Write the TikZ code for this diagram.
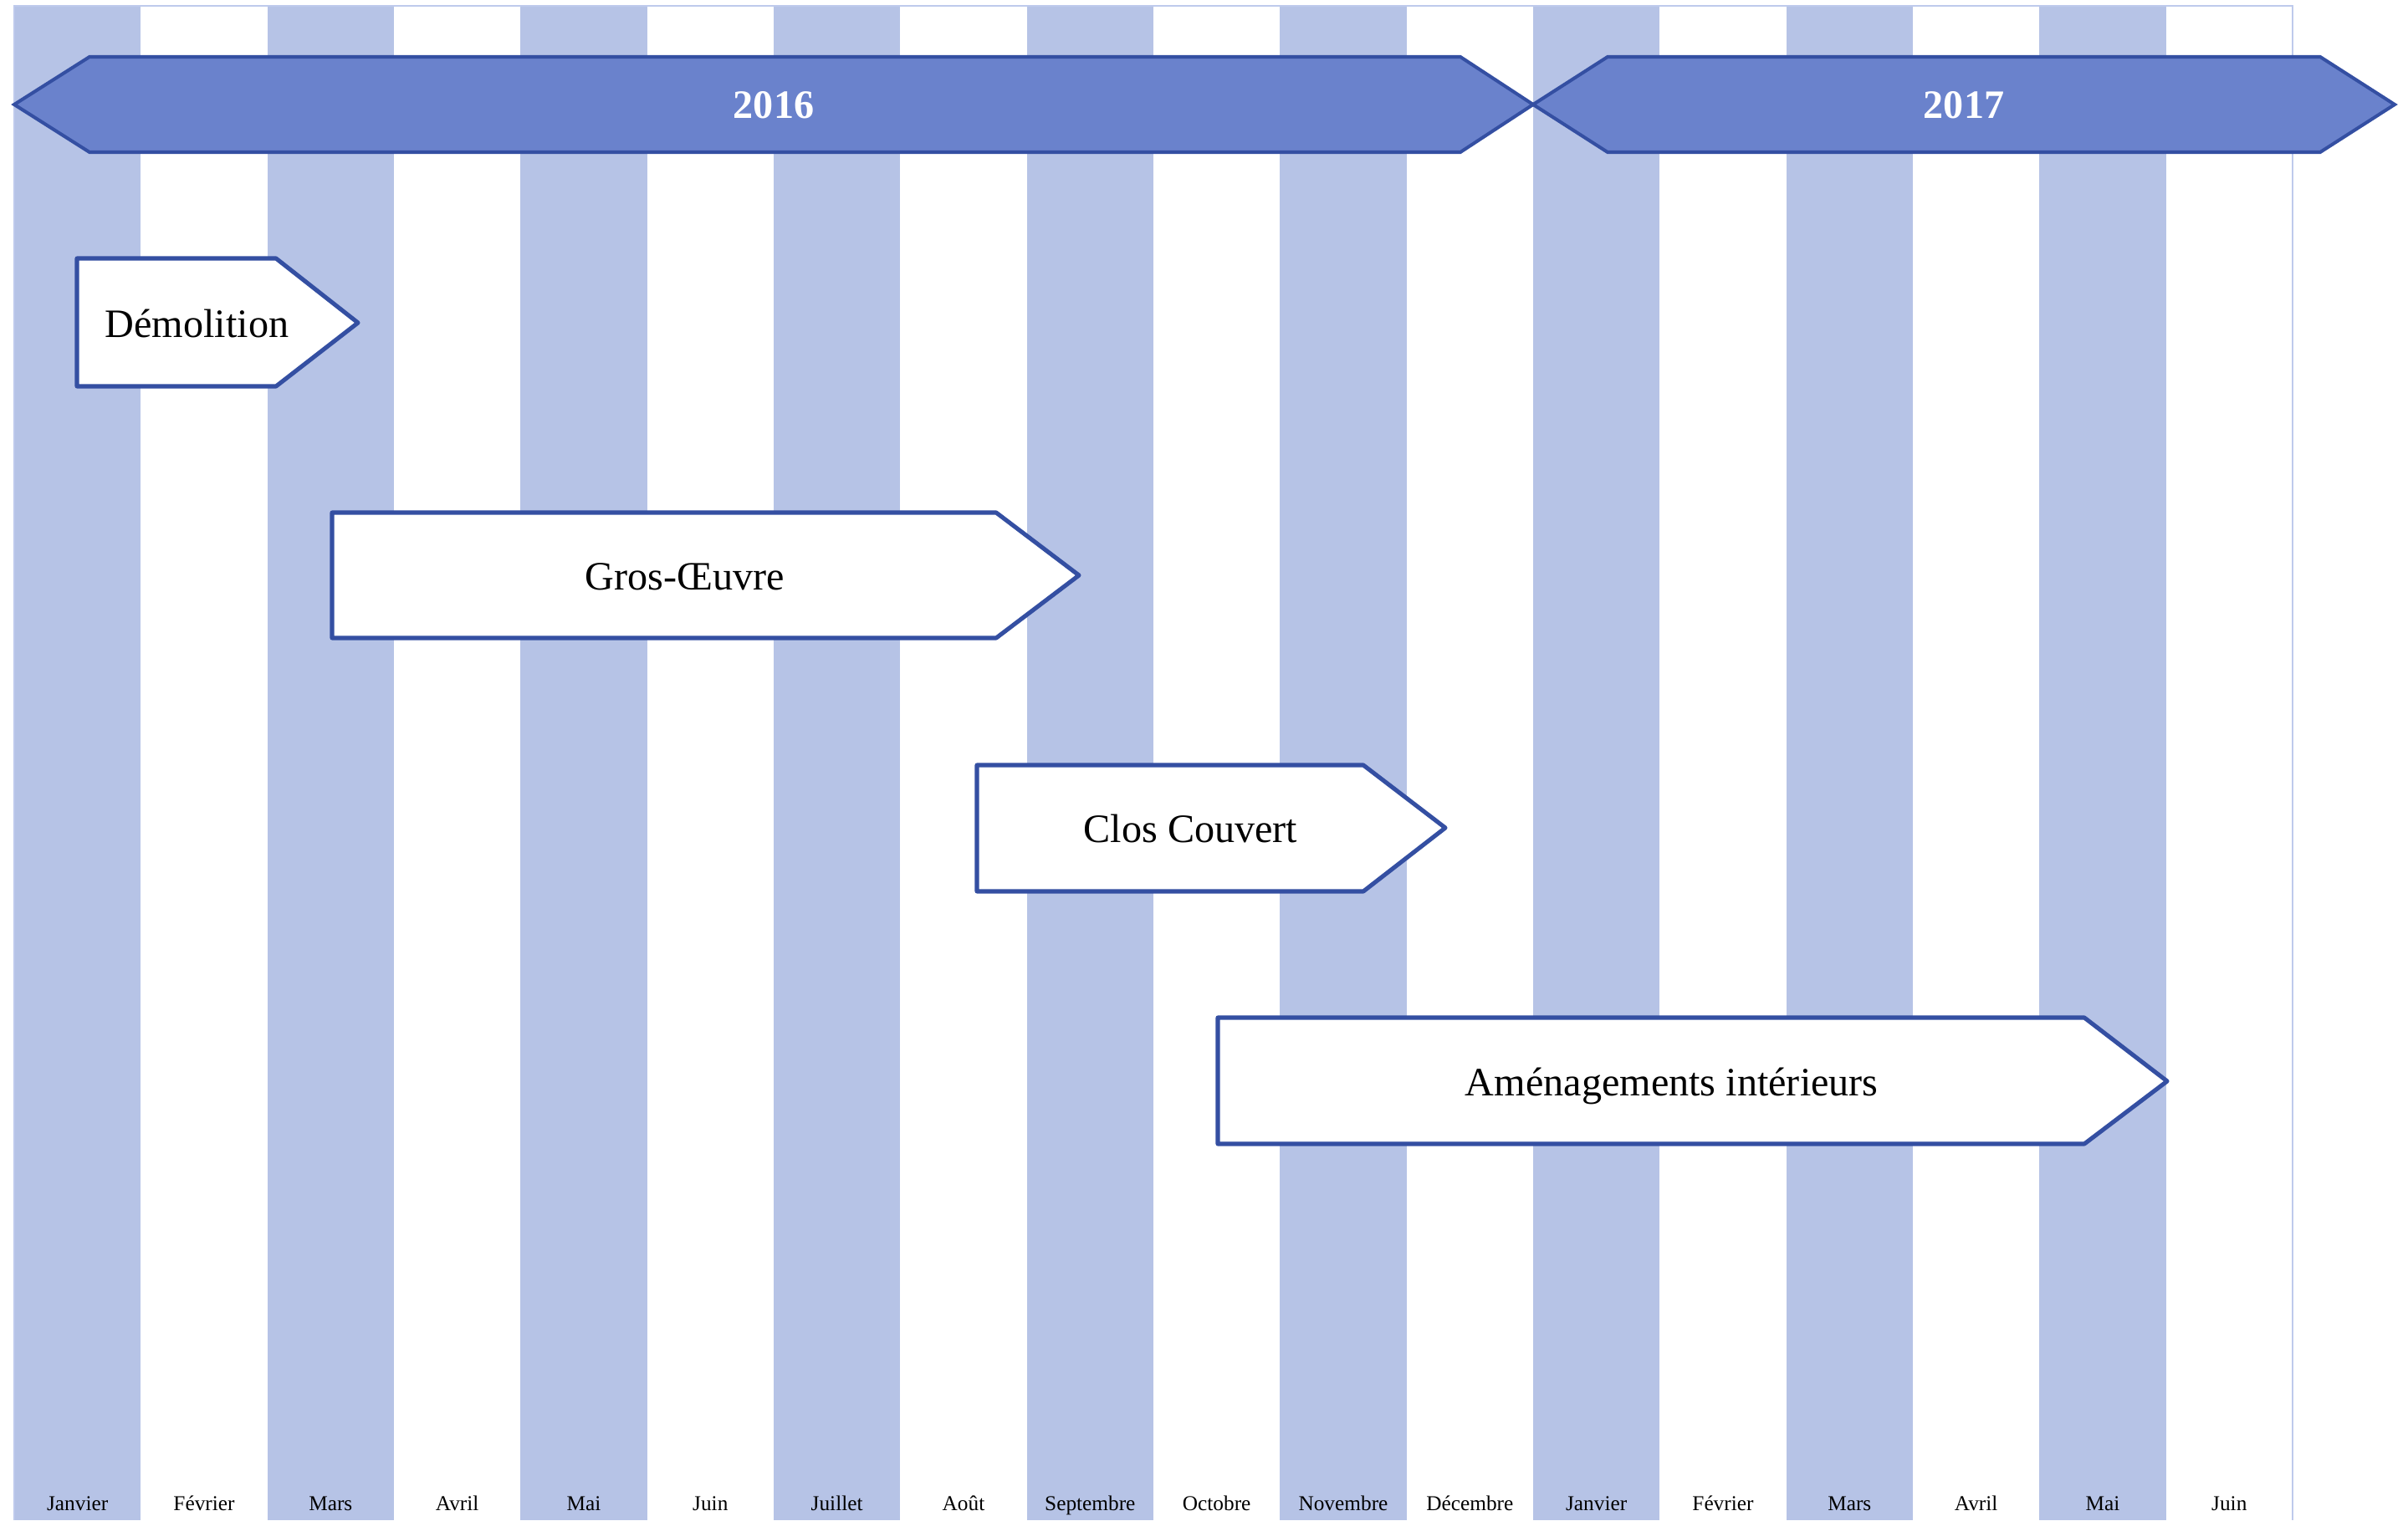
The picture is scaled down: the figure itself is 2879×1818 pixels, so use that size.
\documentclass[tikz,border=0pt]{standalone}
\usepackage{fontspec}
\setmainfont{Liberation Serif}
\definecolor{colblue}{RGB}{182,195,230}
\definecolor{frameblue}{RGB}{190,202,236}
\definecolor{yearfill}{RGB}{106,130,204}
\definecolor{edgeblue}{RGB}{52,79,162}
\begin{document}
\begin{tikzpicture}[x=0.01cm,y=-0.01cm,
  yearshape/.style={fill=yearfill,draw=edgeblue,line width=1.15pt,line join=miter},
  taskshape/.style={fill=white,draw=edgeblue,line width=1.45pt,line join=round},
  tasklabel/.style={anchor=base,inner sep=0pt,font=\fontsize{13.7}{16}\selectfont},
  yearlabel/.style={anchor=base,inner sep=0pt,text=white,font=\fontsize{13.7}{16}\selectfont\bfseries},
  monthlabel/.style={anchor=base,inner sep=0pt,font=\fontsize{7.2}{9}\selectfont}]
\useasboundingbox (0,0) rectangle (2879,1818);
% background columns
\foreach \i in {0,2,...,16}
  \fill[colblue] ({17+\i*151.33},7) rectangle ({17+(\i+1)*151.33},1818);
\draw[frameblue,line width=0.6pt] (17,1818) -- (17,7) -- (2741,7) -- (2741,1818);
% year arrows
\draw[yearshape] (17,125) -- (107,68) -- (1746,68) -- (1833,125) -- (1746,182) -- (107,182) -- cycle;
\draw[yearshape] (1833,125) -- (1922,68) -- (2774,68) -- (2863,125) -- (2774,182) -- (1922,182) -- cycle;
\node[yearlabel] (y2016) at (925,141) {2016};
\node[yearlabel] (y2017) at (2348,141) {2017};
% tasks
\draw[taskshape] (92,309) -- (330,309) -- (428,386) -- (330,462) -- (92,462) -- cycle;
\node[tasklabel] (demol) at (235.5,403) {Démolition};
\draw[taskshape] (397,613) -- (1191,613) -- (1290,688) -- (1191,763) -- (397,763) -- cycle;
\node[tasklabel] (gros) at (818.75,705) {Gros-Œuvre};
\draw[taskshape] (1168,915) -- (1630,915) -- (1728,990) -- (1630,1066) -- (1168,1066) -- cycle;
\node[tasklabel] (clos) at (1423.5,1007) {Clos Couvert};
\draw[taskshape] (1456,1217) -- (2492,1217) -- (2591,1293) -- (2492,1368) -- (1456,1368) -- cycle;
\node[tasklabel] (amen) at (1998.75,1310) {Aménagements intérieurs};
% months
\foreach \m [count=\k from 0] in {Janvier,Février,Mars,Avril,Mai,Juin,Juillet,Août,Septembre,Octobre,Novembre,Décembre,Janvier,Février,Mars,Avril,Mai,Juin}
  \node[monthlabel] (m\k) at ({17+(\k+0.5)*151.33},1806) {\m};
\end{tikzpicture}
\end{document}
